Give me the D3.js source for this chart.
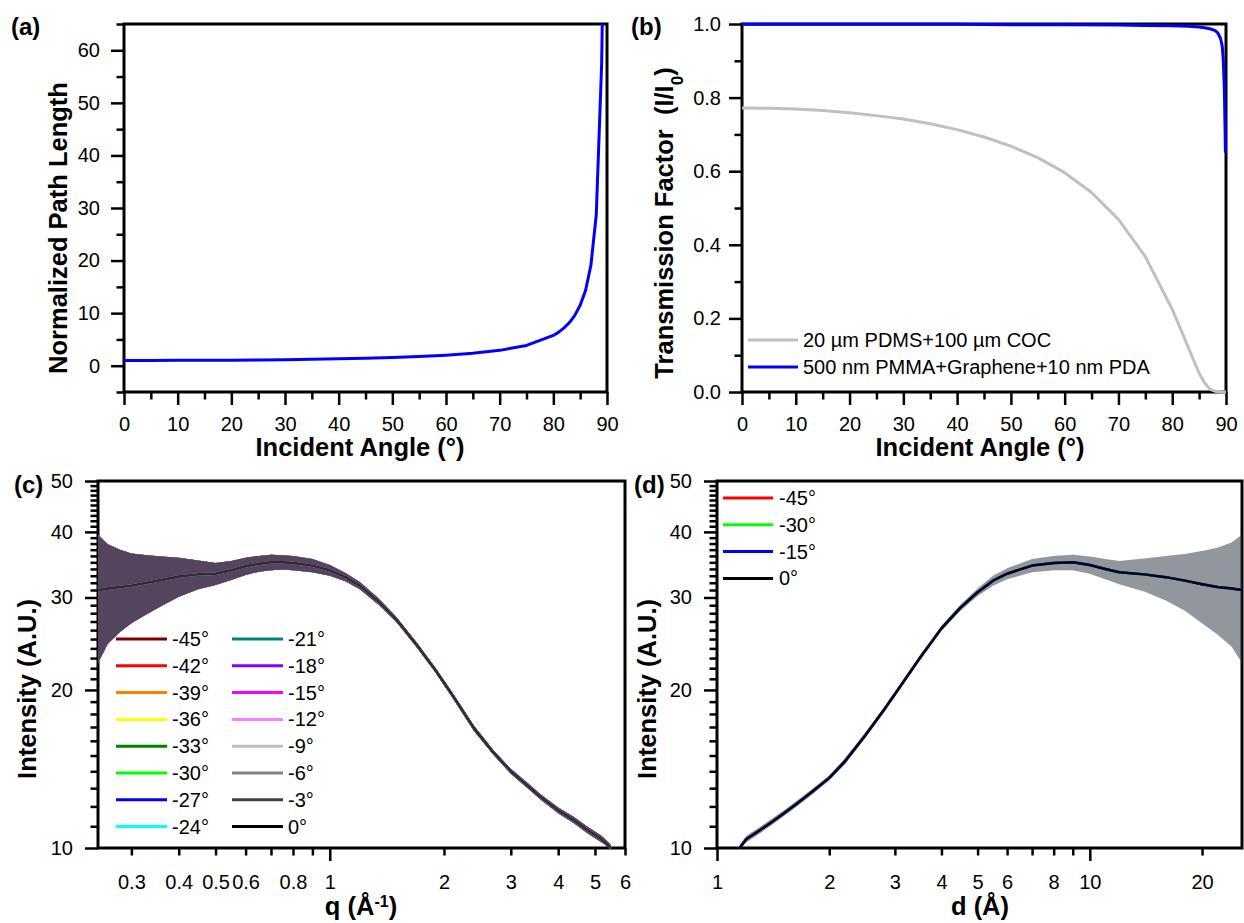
<!DOCTYPE html>
<html>
<head>
<meta charset="utf-8">
<script src="https://cdn.jsdelivr.net/npm/d3@7"></script>
<style>
  body { margin: 0; background: #fff; }
  svg { font-family: "Liberation Sans", Arial, sans-serif; }
</style>
</head>
<body>
<svg id="fig" width="1244" height="923"></svg>
<script>
// ---- (a) normalized path length vs incident angle
const angleA = [0, 5, 10, 15, 20, 25, 30, 35, 40, 45, 50, 55, 60, 65, 70, 75, 80, 81, 82, 83, 84, 85, 86, 87, 88, 89, 89.12];
const pathLength = [1.00, 1.00, 1.02, 1.04, 1.06, 1.10, 1.15, 1.22, 1.31, 1.41, 1.56, 1.74, 2.00, 2.37, 2.92, 3.86, 5.76, 6.39, 7.19, 8.21, 9.57, 11.5, 14.3, 19.1, 28.7, 57.3, 65];

// ---- (b) transmission factor
const angleGray = [0, 5, 10, 15, 20, 25, 30, 35, 40, 45, 50, 55, 60, 65, 70, 75, 80, 85, 86, 87, 88, 89, 90];
const transPDMS = [0.772, 0.771, 0.769, 0.765, 0.759, 0.751, 0.742, 0.729, 0.713, 0.693, 0.668, 0.637, 0.596, 0.542, 0.469, 0.368, 0.225, 0.051, 0.025, 0.008, 0.002, 0.000, 0.000];
const angleBlue = [0, 10, 20, 30, 40, 50, 60, 70, 75, 80, 83, 85, 86, 87, 88, 88.5, 89, 89.3, 89.5, 89.7, 89.9];
const transPMMA = [0.999, 0.999, 0.999, 0.999, 0.999, 0.998, 0.998, 0.997, 0.996, 0.995, 0.994, 0.992, 0.990, 0.987, 0.982, 0.975, 0.960, 0.940, 0.900, 0.820, 0.650];
const legendB = ["20 \u00b5m PDMS+100 \u00b5m COC", "500 nm PMMA+Graphene+10 nm PDA"];

// ---- (c) intensity vs q, all tilt angles overlap
const tiltC = ["-45\u00b0", "-42\u00b0", "-39\u00b0", "-36\u00b0", "-33\u00b0", "-30\u00b0", "-27\u00b0", "-24\u00b0",
               "-21\u00b0", "-18\u00b0", "-15\u00b0", "-12\u00b0", "-9\u00b0", "-6\u00b0", "-3\u00b0", "0\u00b0"];
const colorsC = ["#800000", "#ff0000", "#ff8000", "#ffff00", "#008000", "#00ff00", "#0000ff", "#00ffff",
                 "#008080", "#8000ff", "#ff00ff", "#ff80ff", "#c0c0c0", "#808080", "#404040", "#000000"];
const qVals = [0.245, 0.26, 0.28, 0.30, 0.33, 0.36, 0.40, 0.45, 0.50, 0.55, 0.60, 0.65, 0.70, 0.75, 0.80, 0.90, 1.00,
               1.10, 1.20, 1.35, 1.50, 1.70, 1.90, 2.10, 2.40, 2.70, 3.00, 3.30, 3.60, 4.00, 4.40, 4.80, 5.20, 5.50];
const qMean = [31.0, 31.2, 31.4, 31.6, 32.0, 32.4, 32.9, 33.2, 33.3, 33.8, 34.4, 34.8, 35.0, 35.0, 34.9, 34.5, 33.8,
               32.8, 31.6, 29.4, 27.2, 24.3, 21.8, 19.6, 16.9, 15.2, 14.0, 13.2, 12.5, 11.8, 11.3, 10.8, 10.4, 10.0];
const qErr = [8.5, 6.7, 5.6, 4.8, 4.1, 3.5, 2.8, 2.1, 1.6, 1.4, 1.3, 1.2, 1.2, 1.1, 1.1, 1.0, 0.8,
              0.6, 0.5, 0.4, 0.3, 0.25, 0.2, 0.2, 0.2, 0.15, 0.15, 0.15, 0.15, 0.15, 0.15, 0.15, 0.15, 0.15];

// ---- (d) intensity vs d spacing
const tiltD = ["-45\u00b0", "-30\u00b0", "-15\u00b0", "0\u00b0"];
const colorsD = ["#ff0000", "#00ff00", "#0000ff", "#000000"];
const dVals = [1.15, 1.2, 1.3, 1.4, 1.5, 1.65, 1.8, 2.0, 2.2, 2.5, 2.8, 3.1, 3.5, 4.0, 4.5, 5.0, 5.5, 6.0,
               7.0, 8.0, 9.0, 10, 11, 12, 14, 16, 18, 20, 22, 24, 25.6];
const dMean = [10.0, 10.4, 10.8, 11.2, 11.6, 12.2, 12.8, 13.6, 14.6, 16.4, 18.3, 20.3, 23.0, 26.2, 28.7, 30.7, 32.3, 33.3,
               34.5, 34.9, 35.0, 34.6, 34.0, 33.5, 33.2, 32.8, 32.3, 31.8, 31.4, 31.2, 31.0];
const dErr = [0.15, 0.15, 0.15, 0.15, 0.15, 0.15, 0.15, 0.15, 0.2, 0.2, 0.2, 0.2, 0.25, 0.3, 0.4, 0.5, 0.7, 0.8,
              1.0, 1.1, 1.2, 1.3, 1.5, 1.7, 2.4, 3.2, 4.0, 5.0, 5.9, 7.0, 8.5];

// ---- ticks
const linTicks0to90 = d3.range(0, 91, 10);
const linMinor0to90 = d3.range(5, 90, 10);
const logYMajor = [10, 20, 30, 40, 50];
const logYMinor = d3.range(11, 50).filter(v => v % 10 !== 0);

const svg = d3.select("#fig");
const defs = svg.append("defs");
const FONT = "'Liberation Sans', Arial, sans-serif";

function makePanel(id, left, top, w, h) {
  defs.append("clipPath").attr("id", "clip-" + id)
    .append("rect").attr("x", -2).attr("y", -2).attr("width", w + 4).attr("height", h + 4);
  const g = svg.append("g").attr("transform", `translate(${left},${top})`);
  return { g, w, h, clip: `url(#clip-${id})` };
}

function drawAxes(p, x, y, o) {
  const g = p.g;
  const tickAxis = (gen, vals, size, bottom) => {
    const a = g.append("g").attr("class", "tk");
    if (bottom) a.attr("transform", `translate(0,${p.h})`);
    a.call(gen.tickValues(vals).tickSize(size).tickSizeOuter(0).tickFormat(""));
    a.select(".domain").remove();
    a.selectAll("line").attr("stroke-width", 2.5);
  };
  tickAxis(d3.axisBottom(x), o.xMinor, 7.5, true);
  tickAxis(d3.axisBottom(x), o.xMajor, 13, true);
  tickAxis(d3.axisLeft(y), o.yMinor, 7.5, false);
  tickAxis(d3.axisLeft(y), o.yMajor, 13, false);

  const xl = g.append("g").attr("transform", `translate(0,${p.h})`)
    .call(d3.axisBottom(x).tickValues(o.xLabels).tickSize(0).tickPadding(o.xPad).tickFormat(o.xFmt));
  const yl = g.append("g")
    .call(d3.axisLeft(y).tickValues(o.yLabels).tickSize(0).tickPadding(o.yPad).tickFormat(o.yFmt));
  [xl, yl].forEach(s => {
    s.select(".domain").remove();
    s.attr("font-family", FONT).attr("font-size", 20);
    s.selectAll("text").attr("fill", "#000");
  });

  g.append("rect").attr("width", p.w).attr("height", p.h)
    .attr("fill", "none").attr("stroke", "#000").attr("stroke-width", 3);
}

function label(text, x, y) {
  svg.append("text").attr("x", x).attr("y", y)
    .attr("font-size", 24).attr("font-weight", "bold").text(text);
}

function title(x, y, rotate) {
  const t = svg.append("text")
    .attr("text-anchor", "middle").attr("font-size", 25.5).attr("font-weight", "bold");
  if (rotate) t.attr("transform", `translate(${x},${y}) rotate(-90)`);
  else t.attr("x", x).attr("y", y);
  return t;
}

// =============== (a)
{
  const p = makePanel("a", 124, 24, 483, 368);
  const x = d3.scaleLinear().domain([0, 90]).range([0, p.w]);
  const y = d3.scaleLinear().domain([-5, 65]).range([p.h, 0]);
  drawAxes(p, x, y, {
    xMajor: linTicks0to90, xMinor: linMinor0to90, xLabels: linTicks0to90, xPad: 25, xFmt: d3.format("d"),
    yMajor: d3.range(0, 61, 10), yMinor: d3.range(-5, 66, 10), yLabels: d3.range(0, 61, 10), yPad: 24, yFmt: d3.format("d")
  });
  const line = d3.line().x((d, i) => x(angleA[i])).y(d => y(d));
  p.g.append("g").attr("clip-path", p.clip).append("path")
    .datum(pathLength).attr("d", line)
    .attr("fill", "none").attr("stroke", "#0000ff").attr("stroke-width", 3).attr("stroke-linejoin", "round");
  label("(a)", 11, 35);
  title(67, 228, true).text("Normalized Path Length");
  title(360, 456, false).text("Incident Angle (\u00b0)");
}

// =============== (b)
{
  const p = makePanel("b", 742, 24, 484, 368);
  const x = d3.scaleLinear().domain([0, 90]).range([0, p.w]);
  const y = d3.scaleLinear().domain([0, 1]).range([p.h, 0]);
  drawAxes(p, x, y, {
    xMajor: linTicks0to90, xMinor: linMinor0to90, xLabels: linTicks0to90, xPad: 25, xFmt: d3.format("d"),
    yMajor: [0, 0.2, 0.4, 0.6, 0.8, 1.0], yMinor: [0.1, 0.3, 0.5, 0.7, 0.9],
    yLabels: [0, 0.2, 0.4, 0.6, 0.8, 1.0], yPad: 21, yFmt: d3.format(".1f")
  });
  const lg = p.g.append("g").attr("clip-path", p.clip);
  lg.append("path").datum(transPDMS)
    .attr("d", d3.line().x((d, i) => x(angleGray[i])).y(d => y(d)))
    .attr("fill", "none").attr("stroke", "#c0c0c0").attr("stroke-width", 3).attr("stroke-linejoin", "round");
  lg.append("path").datum(transPMMA)
    .attr("d", d3.line().x((d, i) => x(angleBlue[i])).y(d => y(d)))
    .attr("fill", "none").attr("stroke", "#0000ff").attr("stroke-width", 3).attr("stroke-linejoin", "round");

  const leg = svg.append("g").attr("font-size", 20);
  [["#c0c0c0", legendB[0]], ["#0000ff", legendB[1]]].forEach(([c, t], i) => {
    const yy = 340 + i * 27;
    leg.append("line").attr("x1", 748).attr("x2", 798).attr("y1", yy).attr("y2", yy)
      .attr("stroke", c).attr("stroke-width", 3);
    leg.append("text").attr("x", 803).attr("y", yy).attr("dy", "0.35em").text(t);
  });
  label("(b)", 631, 35);
  const t = title(673, 223, true);
  t.append("tspan").text("Transmission Factor\u00a0 (I/I");
  t.append("tspan").attr("font-size", 17).attr("baseline-shift", "sub").text("0");
  t.append("tspan").text(")");
  title(980, 456, false).text("Incident Angle (\u00b0)");
}

// shared drawer for the SAXS panels
function drawSeries(p, x, y, xs, mean, err, colors, areaOpacity, lineOpacity) {
  const lg = p.g.append("g").attr("clip-path", p.clip);
  const area = d3.area()
    .x((d, i) => x(xs[i]))
    .y0((d, i) => y(Math.max(10.01, d - err[i])))
    .y1((d, i) => y(d + err[i]));
  const line = d3.line().x((d, i) => x(xs[i])).y(d => y(d));
  colors.forEach(c => {
    lg.append("path").datum(mean).attr("d", area)
      .attr("fill", c).attr("fill-opacity", areaOpacity).attr("stroke", "none");
  });
  colors.forEach(c => {
    lg.append("path").datum(mean).attr("d", line)
      .attr("fill", "none").attr("stroke", c).attr("stroke-width", 2.5)
      .attr("stroke-opacity", lineOpacity).attr("stroke-linejoin", "round");
  });
}

// =============== (c)
{
  const p = makePanel("c", 98, 481, 527, 367);
  const x = d3.scaleLog().domain([0.245, 6]).range([0, p.w]);
  const y = d3.scaleLog().domain([10, 50]).range([p.h, 0]);
  drawAxes(p, x, y, {
    xMajor: [1], xMinor: [0.3, 0.4, 0.5, 0.6, 0.7, 0.8, 0.9, 2, 3, 4, 5, 6],
    xLabels: [0.3, 0.4, 0.5, 0.6, 0.8, 1, 2, 3, 4, 5, 6], xPad: 27, xFmt: d => String(d),
    yMajor: logYMajor, yMinor: logYMinor, yLabels: logYMajor, yPad: 25, yFmt: d3.format("d")
  });
  drawSeries(p, x, y, qVals, qMean, qErr, colorsC, 0.34, 0.55);

  const leg = svg.append("g").attr("font-size", 20);
  tiltC.forEach((t, i) => {
    const col = Math.floor(i / 8), row = i % 8;
    const x0 = col === 0 ? 116 : 232;
    const yy = 639 + row * 26.8;
    leg.append("line").attr("x1", x0).attr("x2", x0 + 51).attr("y1", yy).attr("y2", yy)
      .attr("stroke", colorsC[i]).attr("stroke-width", 3);
    leg.append("text").attr("x", x0 + 56).attr("y", yy).attr("dy", "0.35em").text(t);
  });
  label("(c)", 14, 493);
  title(36, 689, true).text("Intensity (A.U.)");
  const t = title(361, 915, false);
  t.append("tspan").text("q (\u00c5");
  t.append("tspan").attr("font-size", 16).attr("baseline-shift", "super").text("-1");
  t.append("tspan").text(")");
}

// =============== (d)
{
  const p = makePanel("d", 717, 481, 525, 367);
  const x = d3.scaleLog().domain([1, 25.6]).range([0, p.w]);
  const y = d3.scaleLog().domain([10, 50]).range([p.h, 0]);
  drawAxes(p, x, y, {
    xMajor: [1, 10], xMinor: [2, 3, 4, 5, 6, 7, 8, 9, 20],
    xLabels: [1, 2, 3, 4, 5, 6, 8, 10, 20], xPad: 27, xFmt: d => String(d),
    yMajor: logYMajor, yMinor: logYMinor, yLabels: logYMajor, yPad: 25, yFmt: d3.format("d")
  });
  drawSeries(p, x, y, dVals, dMean, dErr, colorsD, 0.17, 0.85);

  const leg = svg.append("g").attr("font-size", 20);
  tiltD.forEach((t, i) => {
    const yy = 498 + i * 26.8;
    leg.append("line").attr("x1", 723).attr("x2", 773).attr("y1", yy).attr("y2", yy)
      .attr("stroke", colorsD[i]).attr("stroke-width", 3);
    leg.append("text").attr("x", 779).attr("y", yy).attr("dy", "0.35em").text(t);
  });
  label("(d)", 634, 493);
  title(656, 689, true).text("Intensity (A.U.)");
  title(980, 915, false).text("d (\u00c5)");
}
</script>
</body>
</html>
